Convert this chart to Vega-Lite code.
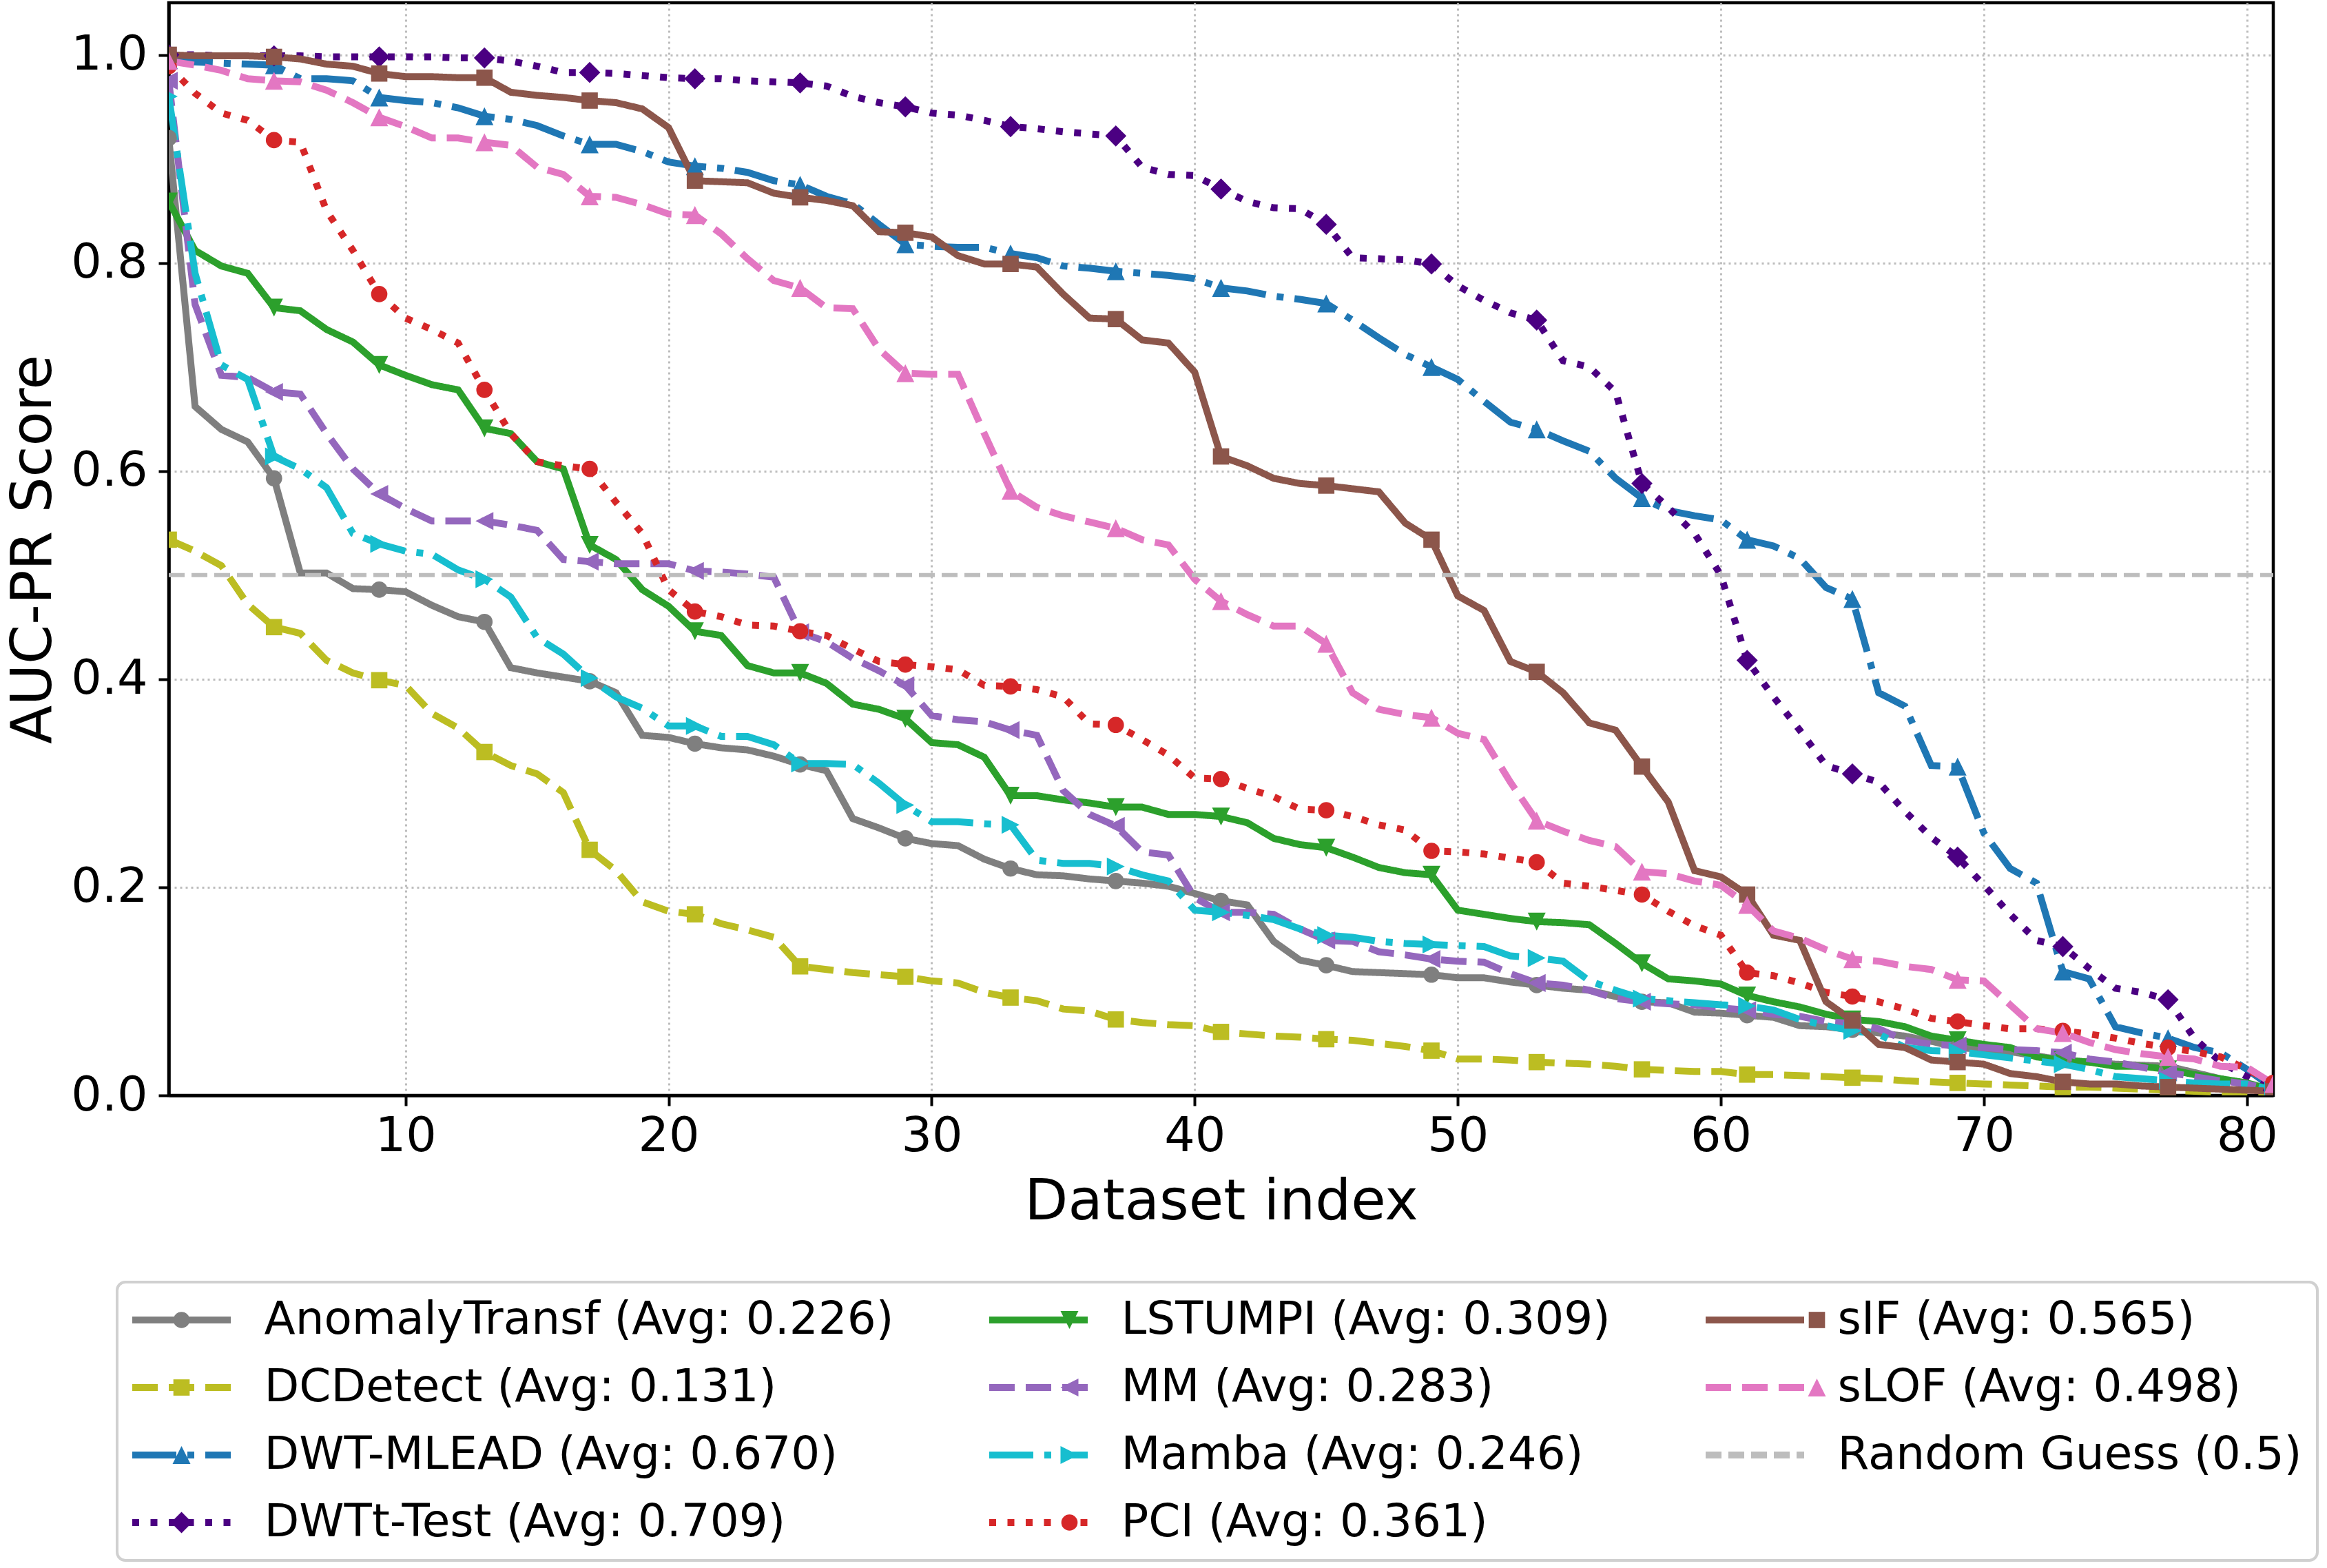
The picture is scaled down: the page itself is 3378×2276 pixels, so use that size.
{
"width": 3055, "height": 1586,
"autosize": {"type": "none"},
"padding": {"left": 245, "top": 4, "right": 78, "bottom": 686},
"background": "white",
"config": {
 "font": "DejaVu Sans",
 "view": {"stroke": "black", "strokeWidth": 4.5},
 "axis": {"domainColor": "black", "domainWidth": 4.5, "tickColor": "black", "tickWidth": 4, "tickSize": 15, "labelFont": "DejaVu Sans", "labelFontSize": 70, "labelColor": "black", "titleFont": "DejaVu Sans", "titleFontSize": 82, "titleFontWeight": "normal", "titleColor": "black", "grid": true, "gridColor": "#bdbdbd", "gridDash": [3, 5], "gridWidth": 3},
 "legend": {"labelFont": "DejaVu Sans", "strokeWidth": 4}
},
"data": {"values": [
{"m":"AT","x":1,"y":0.92},{"m":"AT","x":2,"y":0.662},{"m":"AT","x":3,"y":0.640},{"m":"AT","x":4,"y":0.628},{"m":"AT","x":5,"y":0.593},{"m":"AT","x":6,"y":0.502},{"m":"AT","x":7,"y":0.502},{"m":"AT","x":8,"y":0.487},{"m":"AT","x":9,"y":0.486},{"m":"AT","x":10,"y":0.484},
{"m":"AT","x":11,"y":0.471},{"m":"AT","x":12,"y":0.460},{"m":"AT","x":13,"y":0.455},{"m":"AT","x":14,"y":0.411},{"m":"AT","x":15,"y":0.406},{"m":"AT","x":16,"y":0.402},{"m":"AT","x":17,"y":0.398},{"m":"AT","x":18,"y":0.387},{"m":"AT","x":19,"y":0.346},{"m":"AT","x":20,"y":0.344},
{"m":"AT","x":21,"y":0.338},{"m":"AT","x":22,"y":0.334},{"m":"AT","x":23,"y":0.332},{"m":"AT","x":24,"y":0.326},{"m":"AT","x":25,"y":0.318},{"m":"AT","x":26,"y":0.312},{"m":"AT","x":27,"y":0.266},{"m":"AT","x":28,"y":0.257},{"m":"AT","x":29,"y":0.247},{"m":"AT","x":30,"y":0.242},
{"m":"AT","x":31,"y":0.240},{"m":"AT","x":32,"y":0.227},{"m":"AT","x":33,"y":0.218},{"m":"AT","x":34,"y":0.212},{"m":"AT","x":35,"y":0.211},{"m":"AT","x":36,"y":0.208},{"m":"AT","x":37,"y":0.206},{"m":"AT","x":38,"y":0.204},{"m":"AT","x":39,"y":0.201},{"m":"AT","x":40,"y":0.194},
{"m":"AT","x":41,"y":0.187},{"m":"AT","x":42,"y":0.183},{"m":"AT","x":43,"y":0.148},{"m":"AT","x":44,"y":0.130},{"m":"AT","x":45,"y":0.125},{"m":"AT","x":46,"y":0.119},{"m":"AT","x":47,"y":0.118},{"m":"AT","x":48,"y":0.117},{"m":"AT","x":49,"y":0.116},{"m":"AT","x":50,"y":0.113},
{"m":"AT","x":51,"y":0.113},{"m":"AT","x":52,"y":0.109},{"m":"AT","x":53,"y":0.106},{"m":"AT","x":54,"y":0.103},{"m":"AT","x":55,"y":0.101},{"m":"AT","x":56,"y":0.095},{"m":"AT","x":57,"y":0.090},{"m":"AT","x":58,"y":0.089},{"m":"AT","x":59,"y":0.080},{"m":"AT","x":60,"y":0.079},
{"m":"AT","x":61,"y":0.077},{"m":"AT","x":62,"y":0.075},{"m":"AT","x":63,"y":0.067},{"m":"AT","x":64,"y":0.066},{"m":"AT","x":65,"y":0.063},{"m":"AT","x":66,"y":0.060},{"m":"AT","x":67,"y":0.057},{"m":"AT","x":68,"y":0.052},{"m":"AT","x":69,"y":0.046},{"m":"AT","x":70,"y":0.044},
{"m":"AT","x":71,"y":0.042},{"m":"AT","x":72,"y":0.038},{"m":"AT","x":73,"y":0.034},{"m":"AT","x":74,"y":0.032},{"m":"AT","x":75,"y":0.030},{"m":"AT","x":76,"y":0.029},{"m":"AT","x":77,"y":0.028},{"m":"AT","x":78,"y":0.022},{"m":"AT","x":79,"y":0.016},{"m":"AT","x":80,"y":0.010},{"m":"AT","x":81,"y":0.005},
{"m":"DC","x":1,"y":0.534},{"m":"DC","x":2,"y":0.523},{"m":"DC","x":3,"y":0.509},{"m":"DC","x":4,"y":0.472},{"m":"DC","x":5,"y":0.450},{"m":"DC","x":6,"y":0.444},{"m":"DC","x":7,"y":0.418},{"m":"DC","x":8,"y":0.406},{"m":"DC","x":9,"y":0.399},{"m":"DC","x":10,"y":0.394},
{"m":"DC","x":11,"y":0.367},{"m":"DC","x":12,"y":0.353},{"m":"DC","x":13,"y":0.330},{"m":"DC","x":14,"y":0.317},{"m":"DC","x":15,"y":0.309},{"m":"DC","x":16,"y":0.291},{"m":"DC","x":17,"y":0.236},{"m":"DC","x":18,"y":0.216},{"m":"DC","x":19,"y":0.186},{"m":"DC","x":20,"y":0.177},
{"m":"DC","x":21,"y":0.174},{"m":"DC","x":22,"y":0.165},{"m":"DC","x":23,"y":0.159},{"m":"DC","x":24,"y":0.152},{"m":"DC","x":25,"y":0.124},{"m":"DC","x":26,"y":0.121},{"m":"DC","x":27,"y":0.118},{"m":"DC","x":28,"y":0.116},{"m":"DC","x":29,"y":0.114},{"m":"DC","x":30,"y":0.110},
{"m":"DC","x":31,"y":0.108},{"m":"DC","x":32,"y":0.099},{"m":"DC","x":33,"y":0.094},{"m":"DC","x":34,"y":0.091},{"m":"DC","x":35,"y":0.083},{"m":"DC","x":36,"y":0.081},{"m":"DC","x":37,"y":0.073},{"m":"DC","x":38,"y":0.070},{"m":"DC","x":39,"y":0.068},{"m":"DC","x":40,"y":0.067},
{"m":"DC","x":41,"y":0.061},{"m":"DC","x":42,"y":0.059},{"m":"DC","x":43,"y":0.057},{"m":"DC","x":44,"y":0.056},{"m":"DC","x":45,"y":0.054},{"m":"DC","x":46,"y":0.053},{"m":"DC","x":47,"y":0.050},{"m":"DC","x":48,"y":0.047},{"m":"DC","x":49,"y":0.043},{"m":"DC","x":50,"y":0.035},
{"m":"DC","x":51,"y":0.035},{"m":"DC","x":52,"y":0.034},{"m":"DC","x":53,"y":0.032},{"m":"DC","x":54,"y":0.031},{"m":"DC","x":55,"y":0.030},{"m":"DC","x":56,"y":0.028},{"m":"DC","x":57,"y":0.025},{"m":"DC","x":58,"y":0.024},{"m":"DC","x":59,"y":0.023},{"m":"DC","x":60,"y":0.023},
{"m":"DC","x":61,"y":0.020},{"m":"DC","x":62,"y":0.020},{"m":"DC","x":63,"y":0.019},{"m":"DC","x":64,"y":0.018},{"m":"DC","x":65,"y":0.017},{"m":"DC","x":66,"y":0.016},{"m":"DC","x":67,"y":0.014},{"m":"DC","x":68,"y":0.013},{"m":"DC","x":69,"y":0.012},{"m":"DC","x":70,"y":0.011},
{"m":"DC","x":71,"y":0.010},{"m":"DC","x":72,"y":0.009},{"m":"DC","x":73,"y":0.008},{"m":"DC","x":74,"y":0.008},{"m":"DC","x":75,"y":0.007},{"m":"DC","x":76,"y":0.006},{"m":"DC","x":77,"y":0.005},{"m":"DC","x":78,"y":0.004},{"m":"DC","x":79,"y":0.003},{"m":"DC","x":80,"y":0.002},{"m":"DC","x":81,"y":0.001},
{"m":"DM","x":1,"y":0.995},{"m":"DM","x":2,"y":0.993},{"m":"DM","x":3,"y":0.992},{"m":"DM","x":4,"y":0.991},{"m":"DM","x":5,"y":0.990},{"m":"DM","x":6,"y":0.977},{"m":"DM","x":7,"y":0.977},{"m":"DM","x":8,"y":0.975},{"m":"DM","x":9,"y":0.959},{"m":"DM","x":10,"y":0.956},
{"m":"DM","x":11,"y":0.954},{"m":"DM","x":12,"y":0.949},{"m":"DM","x":13,"y":0.941},{"m":"DM","x":14,"y":0.938},{"m":"DM","x":15,"y":0.932},{"m":"DM","x":16,"y":0.922},{"m":"DM","x":17,"y":0.914},{"m":"DM","x":18,"y":0.914},{"m":"DM","x":19,"y":0.907},{"m":"DM","x":20,"y":0.897},
{"m":"DM","x":21,"y":0.893},{"m":"DM","x":22,"y":0.891},{"m":"DM","x":23,"y":0.887},{"m":"DM","x":24,"y":0.879},{"m":"DM","x":25,"y":0.875},{"m":"DM","x":26,"y":0.864},{"m":"DM","x":27,"y":0.857},{"m":"DM","x":28,"y":0.837},{"m":"DM","x":29,"y":0.818},{"m":"DM","x":30,"y":0.816},
{"m":"DM","x":31,"y":0.815},{"m":"DM","x":32,"y":0.815},{"m":"DM","x":33,"y":0.809},{"m":"DM","x":34,"y":0.805},{"m":"DM","x":35,"y":0.797},{"m":"DM","x":36,"y":0.795},{"m":"DM","x":37,"y":0.792},{"m":"DM","x":38,"y":0.790},{"m":"DM","x":39,"y":0.788},{"m":"DM","x":40,"y":0.785},
{"m":"DM","x":41,"y":0.776},{"m":"DM","x":42,"y":0.773},{"m":"DM","x":43,"y":0.768},{"m":"DM","x":44,"y":0.765},{"m":"DM","x":45,"y":0.761},{"m":"DM","x":46,"y":0.745},{"m":"DM","x":47,"y":0.728},{"m":"DM","x":48,"y":0.712},{"m":"DM","x":49,"y":0.700},{"m":"DM","x":50,"y":0.688},
{"m":"DM","x":51,"y":0.667},{"m":"DM","x":52,"y":0.647},{"m":"DM","x":53,"y":0.640},{"m":"DM","x":54,"y":0.629},{"m":"DM","x":55,"y":0.619},{"m":"DM","x":56,"y":0.593},{"m":"DM","x":57,"y":0.574},{"m":"DM","x":58,"y":0.562},{"m":"DM","x":59,"y":0.557},{"m":"DM","x":60,"y":0.553},
{"m":"DM","x":61,"y":0.534},{"m":"DM","x":62,"y":0.528},{"m":"DM","x":63,"y":0.516},{"m":"DM","x":64,"y":0.488},{"m":"DM","x":65,"y":0.477},{"m":"DM","x":66,"y":0.387},{"m":"DM","x":67,"y":0.374},{"m":"DM","x":68,"y":0.317},{"m":"DM","x":69,"y":0.316},{"m":"DM","x":70,"y":0.252},
{"m":"DM","x":71,"y":0.218},{"m":"DM","x":72,"y":0.204},{"m":"DM","x":73,"y":0.119},{"m":"DM","x":74,"y":0.112},{"m":"DM","x":75,"y":0.066},{"m":"DM","x":76,"y":0.060},{"m":"DM","x":77,"y":0.055},{"m":"DM","x":78,"y":0.046},{"m":"DM","x":79,"y":0.041},{"m":"DM","x":80,"y":0.025},{"m":"DM","x":81,"y":0.007},
{"m":"DT","x":1,"y":1.0},{"m":"DT","x":2,"y":1.0},{"m":"DT","x":3,"y":0.999},{"m":"DT","x":4,"y":0.999},{"m":"DT","x":5,"y":0.999},{"m":"DT","x":6,"y":0.999},{"m":"DT","x":7,"y":0.998},{"m":"DT","x":8,"y":0.998},{"m":"DT","x":9,"y":0.998},{"m":"DT","x":10,"y":0.998},
{"m":"DT","x":11,"y":0.998},{"m":"DT","x":12,"y":0.997},{"m":"DT","x":13,"y":0.997},{"m":"DT","x":14,"y":0.994},{"m":"DT","x":15,"y":0.989},{"m":"DT","x":16,"y":0.983},{"m":"DT","x":17,"y":0.983},{"m":"DT","x":18,"y":0.982},{"m":"DT","x":19,"y":0.980},{"m":"DT","x":20,"y":0.978},
{"m":"DT","x":21,"y":0.977},{"m":"DT","x":22,"y":0.977},{"m":"DT","x":23,"y":0.975},{"m":"DT","x":24,"y":0.974},{"m":"DT","x":25,"y":0.973},{"m":"DT","x":26,"y":0.970},{"m":"DT","x":27,"y":0.960},{"m":"DT","x":28,"y":0.954},{"m":"DT","x":29,"y":0.950},{"m":"DT","x":30,"y":0.944},
{"m":"DT","x":31,"y":0.942},{"m":"DT","x":32,"y":0.937},{"m":"DT","x":33,"y":0.931},{"m":"DT","x":34,"y":0.929},{"m":"DT","x":35,"y":0.926},{"m":"DT","x":36,"y":0.924},{"m":"DT","x":37,"y":0.922},{"m":"DT","x":38,"y":0.892},{"m":"DT","x":39,"y":0.885},{"m":"DT","x":40,"y":0.884},
{"m":"DT","x":41,"y":0.871},{"m":"DT","x":42,"y":0.859},{"m":"DT","x":43,"y":0.853},{"m":"DT","x":44,"y":0.852},{"m":"DT","x":45,"y":0.837},{"m":"DT","x":46,"y":0.805},{"m":"DT","x":47,"y":0.804},{"m":"DT","x":48,"y":0.803},{"m":"DT","x":49,"y":0.799},{"m":"DT","x":50,"y":0.778},
{"m":"DT","x":51,"y":0.764},{"m":"DT","x":52,"y":0.752},{"m":"DT","x":53,"y":0.745},{"m":"DT","x":54,"y":0.706},{"m":"DT","x":55,"y":0.700},{"m":"DT","x":56,"y":0.676},{"m":"DT","x":57,"y":0.588},{"m":"DT","x":58,"y":0.565},{"m":"DT","x":59,"y":0.540},{"m":"DT","x":60,"y":0.500},
{"m":"DT","x":61,"y":0.418},{"m":"DT","x":62,"y":0.383},{"m":"DT","x":63,"y":0.351},{"m":"DT","x":64,"y":0.317},{"m":"DT","x":65,"y":0.309},{"m":"DT","x":66,"y":0.301},{"m":"DT","x":67,"y":0.273},{"m":"DT","x":68,"y":0.248},{"m":"DT","x":69,"y":0.229},{"m":"DT","x":70,"y":0.202},
{"m":"DT","x":71,"y":0.174},{"m":"DT","x":72,"y":0.149},{"m":"DT","x":73,"y":0.143},{"m":"DT","x":74,"y":0.122},{"m":"DT","x":75,"y":0.103},{"m":"DT","x":76,"y":0.099},{"m":"DT","x":77,"y":0.092},{"m":"DT","x":78,"y":0.055},{"m":"DT","x":79,"y":0.032},{"m":"DT","x":80,"y":0.018},{"m":"DT","x":81,"y":0.005},
{"m":"LS","x":1,"y":0.859},{"m":"LS","x":2,"y":0.812},{"m":"LS","x":3,"y":0.797},{"m":"LS","x":4,"y":0.790},{"m":"LS","x":5,"y":0.757},{"m":"LS","x":6,"y":0.754},{"m":"LS","x":7,"y":0.736},{"m":"LS","x":8,"y":0.724},{"m":"LS","x":9,"y":0.702},{"m":"LS","x":10,"y":0.692},
{"m":"LS","x":11,"y":0.683},{"m":"LS","x":12,"y":0.678},{"m":"LS","x":13,"y":0.641},{"m":"LS","x":14,"y":0.636},{"m":"LS","x":15,"y":0.609},{"m":"LS","x":16,"y":0.602},{"m":"LS","x":17,"y":0.529},{"m":"LS","x":18,"y":0.515},{"m":"LS","x":19,"y":0.486},{"m":"LS","x":20,"y":0.470},
{"m":"LS","x":21,"y":0.446},{"m":"LS","x":22,"y":0.442},{"m":"LS","x":23,"y":0.413},{"m":"LS","x":24,"y":0.406},{"m":"LS","x":25,"y":0.406},{"m":"LS","x":26,"y":0.396},{"m":"LS","x":27,"y":0.376},{"m":"LS","x":28,"y":0.371},{"m":"LS","x":29,"y":0.362},{"m":"LS","x":30,"y":0.339},
{"m":"LS","x":31,"y":0.337},{"m":"LS","x":32,"y":0.325},{"m":"LS","x":33,"y":0.288},{"m":"LS","x":34,"y":0.288},{"m":"LS","x":35,"y":0.284},{"m":"LS","x":36,"y":0.281},{"m":"LS","x":37,"y":0.277},{"m":"LS","x":38,"y":0.277},{"m":"LS","x":39,"y":0.270},{"m":"LS","x":40,"y":0.270},
{"m":"LS","x":41,"y":0.268},{"m":"LS","x":42,"y":0.262},{"m":"LS","x":43,"y":0.247},{"m":"LS","x":44,"y":0.241},{"m":"LS","x":45,"y":0.238},{"m":"LS","x":46,"y":0.229},{"m":"LS","x":47,"y":0.219},{"m":"LS","x":48,"y":0.214},{"m":"LS","x":49,"y":0.212},{"m":"LS","x":50,"y":0.178},
{"m":"LS","x":51,"y":0.174},{"m":"LS","x":52,"y":0.170},{"m":"LS","x":53,"y":0.167},{"m":"LS","x":54,"y":0.166},{"m":"LS","x":55,"y":0.164},{"m":"LS","x":56,"y":0.146},{"m":"LS","x":57,"y":0.127},{"m":"LS","x":58,"y":0.112},{"m":"LS","x":59,"y":0.110},{"m":"LS","x":60,"y":0.107},
{"m":"LS","x":61,"y":0.096},{"m":"LS","x":62,"y":0.090},{"m":"LS","x":63,"y":0.085},{"m":"LS","x":64,"y":0.078},{"m":"LS","x":65,"y":0.073},{"m":"LS","x":66,"y":0.071},{"m":"LS","x":67,"y":0.066},{"m":"LS","x":68,"y":0.057},{"m":"LS","x":69,"y":0.053},{"m":"LS","x":70,"y":0.049},
{"m":"LS","x":71,"y":0.046},{"m":"LS","x":72,"y":0.037},{"m":"LS","x":73,"y":0.034},{"m":"LS","x":74,"y":0.032},{"m":"LS","x":75,"y":0.028},{"m":"LS","x":76,"y":0.028},{"m":"LS","x":77,"y":0.025},{"m":"LS","x":78,"y":0.020},{"m":"LS","x":79,"y":0.016},{"m":"LS","x":80,"y":0.012},{"m":"LS","x":81,"y":0.005},
{"m":"MM","x":1,"y":0.975},{"m":"MM","x":2,"y":0.760},{"m":"MM","x":3,"y":0.692},{"m":"MM","x":4,"y":0.690},{"m":"MM","x":5,"y":0.676},{"m":"MM","x":6,"y":0.674},{"m":"MM","x":7,"y":0.636},{"m":"MM","x":8,"y":0.602},{"m":"MM","x":9,"y":0.578},{"m":"MM","x":10,"y":0.564},
{"m":"MM","x":11,"y":0.552},{"m":"MM","x":12,"y":0.552},{"m":"MM","x":13,"y":0.552},{"m":"MM","x":14,"y":0.548},{"m":"MM","x":15,"y":0.543},{"m":"MM","x":16,"y":0.515},{"m":"MM","x":17,"y":0.513},{"m":"MM","x":18,"y":0.511},{"m":"MM","x":19,"y":0.511},{"m":"MM","x":20,"y":0.511},
{"m":"MM","x":21,"y":0.504},{"m":"MM","x":22,"y":0.503},{"m":"MM","x":23,"y":0.501},{"m":"MM","x":24,"y":0.498},{"m":"MM","x":25,"y":0.445},{"m":"MM","x":26,"y":0.436},{"m":"MM","x":27,"y":0.420},{"m":"MM","x":28,"y":0.408},{"m":"MM","x":29,"y":0.394},{"m":"MM","x":30,"y":0.365},
{"m":"MM","x":31,"y":0.361},{"m":"MM","x":32,"y":0.359},{"m":"MM","x":33,"y":0.351},{"m":"MM","x":34,"y":0.346},{"m":"MM","x":35,"y":0.293},{"m":"MM","x":36,"y":0.270},{"m":"MM","x":37,"y":0.259},{"m":"MM","x":38,"y":0.234},{"m":"MM","x":39,"y":0.231},{"m":"MM","x":40,"y":0.190},
{"m":"MM","x":41,"y":0.176},{"m":"MM","x":42,"y":0.176},{"m":"MM","x":43,"y":0.174},{"m":"MM","x":44,"y":0.160},{"m":"MM","x":45,"y":0.149},{"m":"MM","x":46,"y":0.148},{"m":"MM","x":47,"y":0.138},{"m":"MM","x":48,"y":0.135},{"m":"MM","x":49,"y":0.131},{"m":"MM","x":50,"y":0.129},
{"m":"MM","x":51,"y":0.128},{"m":"MM","x":52,"y":0.117},{"m":"MM","x":53,"y":0.108},{"m":"MM","x":54,"y":0.106},{"m":"MM","x":55,"y":0.101},{"m":"MM","x":56,"y":0.093},{"m":"MM","x":57,"y":0.090},{"m":"MM","x":58,"y":0.088},{"m":"MM","x":59,"y":0.087},{"m":"MM","x":60,"y":0.084},
{"m":"MM","x":61,"y":0.082},{"m":"MM","x":62,"y":0.078},{"m":"MM","x":63,"y":0.076},{"m":"MM","x":64,"y":0.071},{"m":"MM","x":65,"y":0.069},{"m":"MM","x":66,"y":0.064},{"m":"MM","x":67,"y":0.053},{"m":"MM","x":68,"y":0.049},{"m":"MM","x":69,"y":0.048},{"m":"MM","x":70,"y":0.046},
{"m":"MM","x":71,"y":0.044},{"m":"MM","x":72,"y":0.043},{"m":"MM","x":73,"y":0.041},{"m":"MM","x":74,"y":0.035},{"m":"MM","x":75,"y":0.032},{"m":"MM","x":76,"y":0.027},{"m":"MM","x":77,"y":0.022},{"m":"MM","x":78,"y":0.018},{"m":"MM","x":79,"y":0.014},{"m":"MM","x":80,"y":0.011},{"m":"MM","x":81,"y":0.005},
{"m":"MA","x":1,"y":0.960},{"m":"MA","x":2,"y":0.790},{"m":"MA","x":3,"y":0.702},{"m":"MA","x":4,"y":0.688},{"m":"MA","x":5,"y":0.614},{"m":"MA","x":6,"y":0.602},{"m":"MA","x":7,"y":0.584},{"m":"MA","x":8,"y":0.540},{"m":"MA","x":9,"y":0.530},{"m":"MA","x":10,"y":0.523},
{"m":"MA","x":11,"y":0.520},{"m":"MA","x":12,"y":0.505},{"m":"MA","x":13,"y":0.496},{"m":"MA","x":14,"y":0.479},{"m":"MA","x":15,"y":0.440},{"m":"MA","x":16,"y":0.424},{"m":"MA","x":17,"y":0.401},{"m":"MA","x":18,"y":0.383},{"m":"MA","x":19,"y":0.372},{"m":"MA","x":20,"y":0.355},
{"m":"MA","x":21,"y":0.355},{"m":"MA","x":22,"y":0.345},{"m":"MA","x":23,"y":0.345},{"m":"MA","x":24,"y":0.337},{"m":"MA","x":25,"y":0.319},{"m":"MA","x":26,"y":0.319},{"m":"MA","x":27,"y":0.318},{"m":"MA","x":28,"y":0.300},{"m":"MA","x":29,"y":0.279},{"m":"MA","x":30,"y":0.263},
{"m":"MA","x":31,"y":0.263},{"m":"MA","x":32,"y":0.261},{"m":"MA","x":33,"y":0.260},{"m":"MA","x":34,"y":0.226},{"m":"MA","x":35,"y":0.223},{"m":"MA","x":36,"y":0.223},{"m":"MA","x":37,"y":0.220},{"m":"MA","x":38,"y":0.212},{"m":"MA","x":39,"y":0.206},{"m":"MA","x":40,"y":0.178},
{"m":"MA","x":41,"y":0.176},{"m":"MA","x":42,"y":0.173},{"m":"MA","x":43,"y":0.169},{"m":"MA","x":44,"y":0.160},{"m":"MA","x":45,"y":0.154},{"m":"MA","x":46,"y":0.152},{"m":"MA","x":47,"y":0.148},{"m":"MA","x":48,"y":0.146},{"m":"MA","x":49,"y":0.145},{"m":"MA","x":50,"y":0.144},
{"m":"MA","x":51,"y":0.143},{"m":"MA","x":52,"y":0.134},{"m":"MA","x":53,"y":0.132},{"m":"MA","x":54,"y":0.129},{"m":"MA","x":55,"y":0.110},{"m":"MA","x":56,"y":0.101},{"m":"MA","x":57,"y":0.093},{"m":"MA","x":58,"y":0.091},{"m":"MA","x":59,"y":0.089},{"m":"MA","x":60,"y":0.087},
{"m":"MA","x":61,"y":0.086},{"m":"MA","x":62,"y":0.082},{"m":"MA","x":63,"y":0.073},{"m":"MA","x":64,"y":0.067},{"m":"MA","x":65,"y":0.062},{"m":"MA","x":66,"y":0.059},{"m":"MA","x":67,"y":0.046},{"m":"MA","x":68,"y":0.043},{"m":"MA","x":69,"y":0.042},{"m":"MA","x":70,"y":0.039},
{"m":"MA","x":71,"y":0.036},{"m":"MA","x":72,"y":0.033},{"m":"MA","x":73,"y":0.030},{"m":"MA","x":74,"y":0.025},{"m":"MA","x":75,"y":0.018},{"m":"MA","x":76,"y":0.016},{"m":"MA","x":77,"y":0.014},{"m":"MA","x":78,"y":0.012},{"m":"MA","x":79,"y":0.011},{"m":"MA","x":80,"y":0.011},{"m":"MA","x":81,"y":0.005},
{"m":"PC","x":1,"y":0.989},{"m":"PC","x":2,"y":0.963},{"m":"PC","x":3,"y":0.944},{"m":"PC","x":4,"y":0.937},{"m":"PC","x":5,"y":0.918},{"m":"PC","x":6,"y":0.916},{"m":"PC","x":7,"y":0.850},{"m":"PC","x":8,"y":0.812},{"m":"PC","x":9,"y":0.770},{"m":"PC","x":10,"y":0.747},
{"m":"PC","x":11,"y":0.736},{"m":"PC","x":12,"y":0.723},{"m":"PC","x":13,"y":0.678},{"m":"PC","x":14,"y":0.636},{"m":"PC","x":15,"y":0.609},{"m":"PC","x":16,"y":0.605},{"m":"PC","x":17,"y":0.602},{"m":"PC","x":18,"y":0.570},{"m":"PC","x":19,"y":0.540},{"m":"PC","x":20,"y":0.486},
{"m":"PC","x":21,"y":0.465},{"m":"PC","x":22,"y":0.460},{"m":"PC","x":23,"y":0.452},{"m":"PC","x":24,"y":0.451},{"m":"PC","x":25,"y":0.446},{"m":"PC","x":26,"y":0.442},{"m":"PC","x":27,"y":0.429},{"m":"PC","x":28,"y":0.417},{"m":"PC","x":29,"y":0.414},{"m":"PC","x":30,"y":0.412},
{"m":"PC","x":31,"y":0.409},{"m":"PC","x":32,"y":0.394},{"m":"PC","x":33,"y":0.393},{"m":"PC","x":34,"y":0.390},{"m":"PC","x":35,"y":0.383},{"m":"PC","x":36,"y":0.357},{"m":"PC","x":37,"y":0.356},{"m":"PC","x":38,"y":0.342},{"m":"PC","x":39,"y":0.327},{"m":"PC","x":40,"y":0.305},
{"m":"PC","x":41,"y":0.304},{"m":"PC","x":42,"y":0.295},{"m":"PC","x":43,"y":0.287},{"m":"PC","x":44,"y":0.275},{"m":"PC","x":45,"y":0.274},{"m":"PC","x":46,"y":0.268},{"m":"PC","x":47,"y":0.260},{"m":"PC","x":48,"y":0.255},{"m":"PC","x":49,"y":0.235},{"m":"PC","x":50,"y":0.234},
{"m":"PC","x":51,"y":0.232},{"m":"PC","x":52,"y":0.228},{"m":"PC","x":53,"y":0.224},{"m":"PC","x":54,"y":0.204},{"m":"PC","x":55,"y":0.201},{"m":"PC","x":56,"y":0.197},{"m":"PC","x":57,"y":0.193},{"m":"PC","x":58,"y":0.177},{"m":"PC","x":59,"y":0.163},{"m":"PC","x":60,"y":0.154},
{"m":"PC","x":61,"y":0.118},{"m":"PC","x":62,"y":0.115},{"m":"PC","x":63,"y":0.108},{"m":"PC","x":64,"y":0.099},{"m":"PC","x":65,"y":0.095},{"m":"PC","x":66,"y":0.090},{"m":"PC","x":67,"y":0.083},{"m":"PC","x":68,"y":0.074},{"m":"PC","x":69,"y":0.071},{"m":"PC","x":70,"y":0.067},
{"m":"PC","x":71,"y":0.064},{"m":"PC","x":72,"y":0.064},{"m":"PC","x":73,"y":0.062},{"m":"PC","x":74,"y":0.059},{"m":"PC","x":75,"y":0.055},{"m":"PC","x":76,"y":0.050},{"m":"PC","x":77,"y":0.046},{"m":"PC","x":78,"y":0.042},{"m":"PC","x":79,"y":0.037},{"m":"PC","x":80,"y":0.025},{"m":"PC","x":81,"y":0.012},
{"m":"IF","x":1,"y":1.0},{"m":"IF","x":2,"y":0.999},{"m":"IF","x":3,"y":0.999},{"m":"IF","x":4,"y":0.999},{"m":"IF","x":5,"y":0.998},{"m":"IF","x":6,"y":0.996},{"m":"IF","x":7,"y":0.991},{"m":"IF","x":8,"y":0.989},{"m":"IF","x":9,"y":0.982},{"m":"IF","x":10,"y":0.979},
{"m":"IF","x":11,"y":0.979},{"m":"IF","x":12,"y":0.978},{"m":"IF","x":13,"y":0.978},{"m":"IF","x":14,"y":0.964},{"m":"IF","x":15,"y":0.961},{"m":"IF","x":16,"y":0.959},{"m":"IF","x":17,"y":0.956},{"m":"IF","x":18,"y":0.954},{"m":"IF","x":19,"y":0.948},{"m":"IF","x":20,"y":0.930},
{"m":"IF","x":21,"y":0.879},{"m":"IF","x":22,"y":0.878},{"m":"IF","x":23,"y":0.877},{"m":"IF","x":24,"y":0.867},{"m":"IF","x":25,"y":0.863},{"m":"IF","x":26,"y":0.860},{"m":"IF","x":27,"y":0.855},{"m":"IF","x":28,"y":0.830},{"m":"IF","x":29,"y":0.829},{"m":"IF","x":30,"y":0.825},
{"m":"IF","x":31,"y":0.807},{"m":"IF","x":32,"y":0.799},{"m":"IF","x":33,"y":0.799},{"m":"IF","x":34,"y":0.796},{"m":"IF","x":35,"y":0.770},{"m":"IF","x":36,"y":0.747},{"m":"IF","x":37,"y":0.746},{"m":"IF","x":38,"y":0.726},{"m":"IF","x":39,"y":0.723},{"m":"IF","x":40,"y":0.695},
{"m":"IF","x":41,"y":0.614},{"m":"IF","x":42,"y":0.605},{"m":"IF","x":43,"y":0.593},{"m":"IF","x":44,"y":0.588},{"m":"IF","x":45,"y":0.586},{"m":"IF","x":46,"y":0.583},{"m":"IF","x":47,"y":0.580},{"m":"IF","x":48,"y":0.550},{"m":"IF","x":49,"y":0.534},{"m":"IF","x":50,"y":0.480},
{"m":"IF","x":51,"y":0.466},{"m":"IF","x":52,"y":0.417},{"m":"IF","x":53,"y":0.407},{"m":"IF","x":54,"y":0.387},{"m":"IF","x":55,"y":0.358},{"m":"IF","x":56,"y":0.351},{"m":"IF","x":57,"y":0.316},{"m":"IF","x":58,"y":0.282},{"m":"IF","x":59,"y":0.216},{"m":"IF","x":60,"y":0.210},
{"m":"IF","x":61,"y":0.193},{"m":"IF","x":62,"y":0.154},{"m":"IF","x":63,"y":0.149},{"m":"IF","x":64,"y":0.090},{"m":"IF","x":65,"y":0.072},{"m":"IF","x":66,"y":0.049},{"m":"IF","x":67,"y":0.046},{"m":"IF","x":68,"y":0.034},{"m":"IF","x":69,"y":0.032},{"m":"IF","x":70,"y":0.030},
{"m":"IF","x":71,"y":0.021},{"m":"IF","x":72,"y":0.018},{"m":"IF","x":73,"y":0.013},{"m":"IF","x":74,"y":0.011},{"m":"IF","x":75,"y":0.011},{"m":"IF","x":76,"y":0.009},{"m":"IF","x":77,"y":0.008},{"m":"IF","x":78,"y":0.007},{"m":"IF","x":79,"y":0.006},{"m":"IF","x":80,"y":0.005},{"m":"IF","x":81,"y":0.004},
{"m":"LF","x":1,"y":0.994},{"m":"LF","x":2,"y":0.990},{"m":"LF","x":3,"y":0.985},{"m":"LF","x":4,"y":0.977},{"m":"LF","x":5,"y":0.975},{"m":"LF","x":6,"y":0.974},{"m":"LF","x":7,"y":0.966},{"m":"LF","x":8,"y":0.954},{"m":"LF","x":9,"y":0.940},{"m":"LF","x":10,"y":0.931},
{"m":"LF","x":11,"y":0.920},{"m":"LF","x":12,"y":0.920},{"m":"LF","x":13,"y":0.916},{"m":"LF","x":14,"y":0.913},{"m":"LF","x":15,"y":0.892},{"m":"LF","x":16,"y":0.885},{"m":"LF","x":17,"y":0.864},{"m":"LF","x":18,"y":0.863},{"m":"LF","x":19,"y":0.856},{"m":"LF","x":20,"y":0.847},
{"m":"LF","x":21,"y":0.846},{"m":"LF","x":22,"y":0.828},{"m":"LF","x":23,"y":0.804},{"m":"LF","x":24,"y":0.783},{"m":"LF","x":25,"y":0.776},{"m":"LF","x":26,"y":0.757},{"m":"LF","x":27,"y":0.756},{"m":"LF","x":28,"y":0.717},{"m":"LF","x":29,"y":0.694},{"m":"LF","x":30,"y":0.693},
{"m":"LF","x":31,"y":0.693},{"m":"LF","x":32,"y":0.636},{"m":"LF","x":33,"y":0.581},{"m":"LF","x":34,"y":0.565},{"m":"LF","x":35,"y":0.557},{"m":"LF","x":36,"y":0.551},{"m":"LF","x":37,"y":0.545},{"m":"LF","x":38,"y":0.534},{"m":"LF","x":39,"y":0.529},{"m":"LF","x":40,"y":0.496},
{"m":"LF","x":41,"y":0.475},{"m":"LF","x":42,"y":0.462},{"m":"LF","x":43,"y":0.451},{"m":"LF","x":44,"y":0.451},{"m":"LF","x":45,"y":0.434},{"m":"LF","x":46,"y":0.387},{"m":"LF","x":47,"y":0.371},{"m":"LF","x":48,"y":0.366},{"m":"LF","x":49,"y":0.363},{"m":"LF","x":50,"y":0.348},
{"m":"LF","x":51,"y":0.342},{"m":"LF","x":52,"y":0.301},{"m":"LF","x":53,"y":0.264},{"m":"LF","x":54,"y":0.254},{"m":"LF","x":55,"y":0.245},{"m":"LF","x":56,"y":0.239},{"m":"LF","x":57,"y":0.215},{"m":"LF","x":58,"y":0.213},{"m":"LF","x":59,"y":0.206},{"m":"LF","x":60,"y":0.202},
{"m":"LF","x":61,"y":0.183},{"m":"LF","x":62,"y":0.158},{"m":"LF","x":63,"y":0.151},{"m":"LF","x":64,"y":0.140},{"m":"LF","x":65,"y":0.131},{"m":"LF","x":66,"y":0.129},{"m":"LF","x":67,"y":0.124},{"m":"LF","x":68,"y":0.121},{"m":"LF","x":69,"y":0.111},{"m":"LF","x":70,"y":0.110},
{"m":"LF","x":71,"y":0.087},{"m":"LF","x":72,"y":0.064},{"m":"LF","x":73,"y":0.060},{"m":"LF","x":74,"y":0.051},{"m":"LF","x":75,"y":0.044},{"m":"LF","x":76,"y":0.040},{"m":"LF","x":77,"y":0.037},{"m":"LF","x":78,"y":0.035},{"m":"LF","x":79,"y":0.028},{"m":"LF","x":80,"y":0.027},{"m":"LF","x":81,"y":0.011},
{"m":"RG","x":1,"y":0.5},{"m":"RG","x":81,"y":0.5}
]},
"layer": [
 {
  "transform": [{"filter": "datum.m !== 'RG'"}],
  "mark": {"type": "line", "clip": true, "strokeWidth": 10, "strokeCap": "butt"},
  "encoding": {
   "x": {"field": "x", "type": "quantitative", "scale": {"domain": [1, 81], "nice": false, "zero": false}, "axis": {"values": [10, 20, 30, 40, 50, 60, 70, 80], "title": "Dataset index", "labelPadding": 10, "titlePadding": 20}},
   "y": {"field": "y", "type": "quantitative", "scale": {"domain": [0, 1.05], "nice": false}, "axis": {"values": [0, 0.2, 0.4, 0.6, 0.8, 1.0], "format": ".1f", "title": "AUC-PR Score", "labelPadding": 16, "titlePadding": 12}},
   "color": {"field": "m", "type": "nominal",
    "scale": {"domain": ["AT","DC","DM","DT","LS","MM","MA","PC","IF","LF","RG"], "range": ["#7f7f7f","#bcbd22","#1f77b4","#4b0082","#2ca02c","#9467bd","#17becf","#d62728","#8c564b","#e377c2","#bdbdbd"]},
    "legend": {"title": null, "orient": "none", "legendX": -75, "legendY": 1857, "columns": 3, "padding": 22, "strokeColor": "#d0d0d0", "cornerRadius": 12, "labelFontSize": 66, "labelColor": "black", "labelLimit": 3000, "labelOffset": 87, "symbolType": "M-5.5,0H5.5", "symbolSize": 676, "symbolOffset": 38.5, "symbolStrokeWidth": 10, "rowPadding": 32, "columnPadding": 118,
     "labelExpr": "{'AT':'AnomalyTransf (Avg: 0.226)','DC':'DCDetect (Avg: 0.131)','DM':'DWT-MLEAD (Avg: 0.670)','DT':'DWTt-Test (Avg: 0.709)','LS':'LSTUMPI (Avg: 0.309)','MM':'MM (Avg: 0.283)','MA':'Mamba (Avg: 0.246)','PC':'PCI (Avg: 0.361)','IF':'sIF (Avg: 0.565)','LF':'sLOF (Avg: 0.498)','RG':'Random Guess (0.5)'}[datum.value]"}},
   "strokeDash": {"field": "m", "type": "nominal",
    "scale": {"domain": ["AT","DC","DM","DT","LS","MM","MA","PC","IF","LF","RG"], "range": [[1,0],[37,16],[64,16,10,16],[10,16.5],[1,0],[37,16],[64,16,10,16],[10,16.5],[1,0],[37,16],[23,10]]}}
  }
 },
 {
  "transform": [{"filter": "datum.m === 'RG'"}],
  "mark": {"type": "line", "clip": true, "strokeWidth": 6, "color": "#bdbdbd", "strokeDash": [23, 10]},
  "encoding": {
   "x": {"field": "x", "type": "quantitative"},
   "y": {"field": "y", "type": "quantitative"}
  }
 },
 {
  "transform": [{"filter": "datum.m !== 'RG'"}, {"filter": {"field": "x", "oneOf": [1,5,9,13,17,21,25,29,33,37,41,45,49,53,57,61,65,69,73,77,81]}}],
  "mark": {"type": "point", "filled": true, "clip": true, "opacity": 1, "size": 560, "strokeWidth": 0},
  "encoding": {
   "x": {"field": "x", "type": "quantitative"},
   "y": {"field": "y", "type": "quantitative"},
   "color": {"field": "m", "type": "nominal",
    "scale": {"domain": ["AT","DC","DM","DT","LS","MM","MA","PC","IF","LF","RG"], "range": ["#7f7f7f","#bcbd22","#1f77b4","#4b0082","#2ca02c","#9467bd","#17becf","#d62728","#8c564b","#e377c2","transparent"]},
    "legend": {"title": null, "orient": "none", "legendX": -75, "legendY": 1857, "columns": 3, "padding": 22, "labelFontSize": 66, "labelOpacity": 0, "labelLimit": 3000, "labelOffset": 152, "symbolSize": 560, "symbolOffset": 38.5, "symbolStrokeWidth": 0, "symbolOpacity": 1, "rowPadding": 32, "columnPadding": 118,
     "labelExpr": "{'AT':'AnomalyTransf (Avg: 0.226)','DC':'DCDetect (Avg: 0.131)','DM':'DWT-MLEAD (Avg: 0.670)','DT':'DWTt-Test (Avg: 0.709)','LS':'LSTUMPI (Avg: 0.309)','MM':'MM (Avg: 0.283)','MA':'Mamba (Avg: 0.246)','PC':'PCI (Avg: 0.361)','IF':'','LF':'','RG':''}[datum.value]"}},
   "shape": {"field": "m", "type": "nominal",
    "scale": {"domain": ["AT","DC","DM","DT","LS","MM","MA","PC","IF","LF","RG"], "range": ["circle","square","M0,-1.1L1.1,1.1L-1.1,1.1Z","M0,-1.3L1.3,0L0,1.3L-1.3,0Z","M0,1.1L1.1,-1.1L-1.1,-1.1Z","M-1.1,0L1.1,-1.1L1.1,1.1Z","M1.1,0L-1.1,-1.1L-1.1,1.1Z","circle","square","M0,-1.1L1.1,1.1L-1.1,1.1Z","circle"]}}
  }
 }
],
"resolve": {"scale": {"color": "independent", "shape": "independent", "strokeDash": "independent"}}
}
